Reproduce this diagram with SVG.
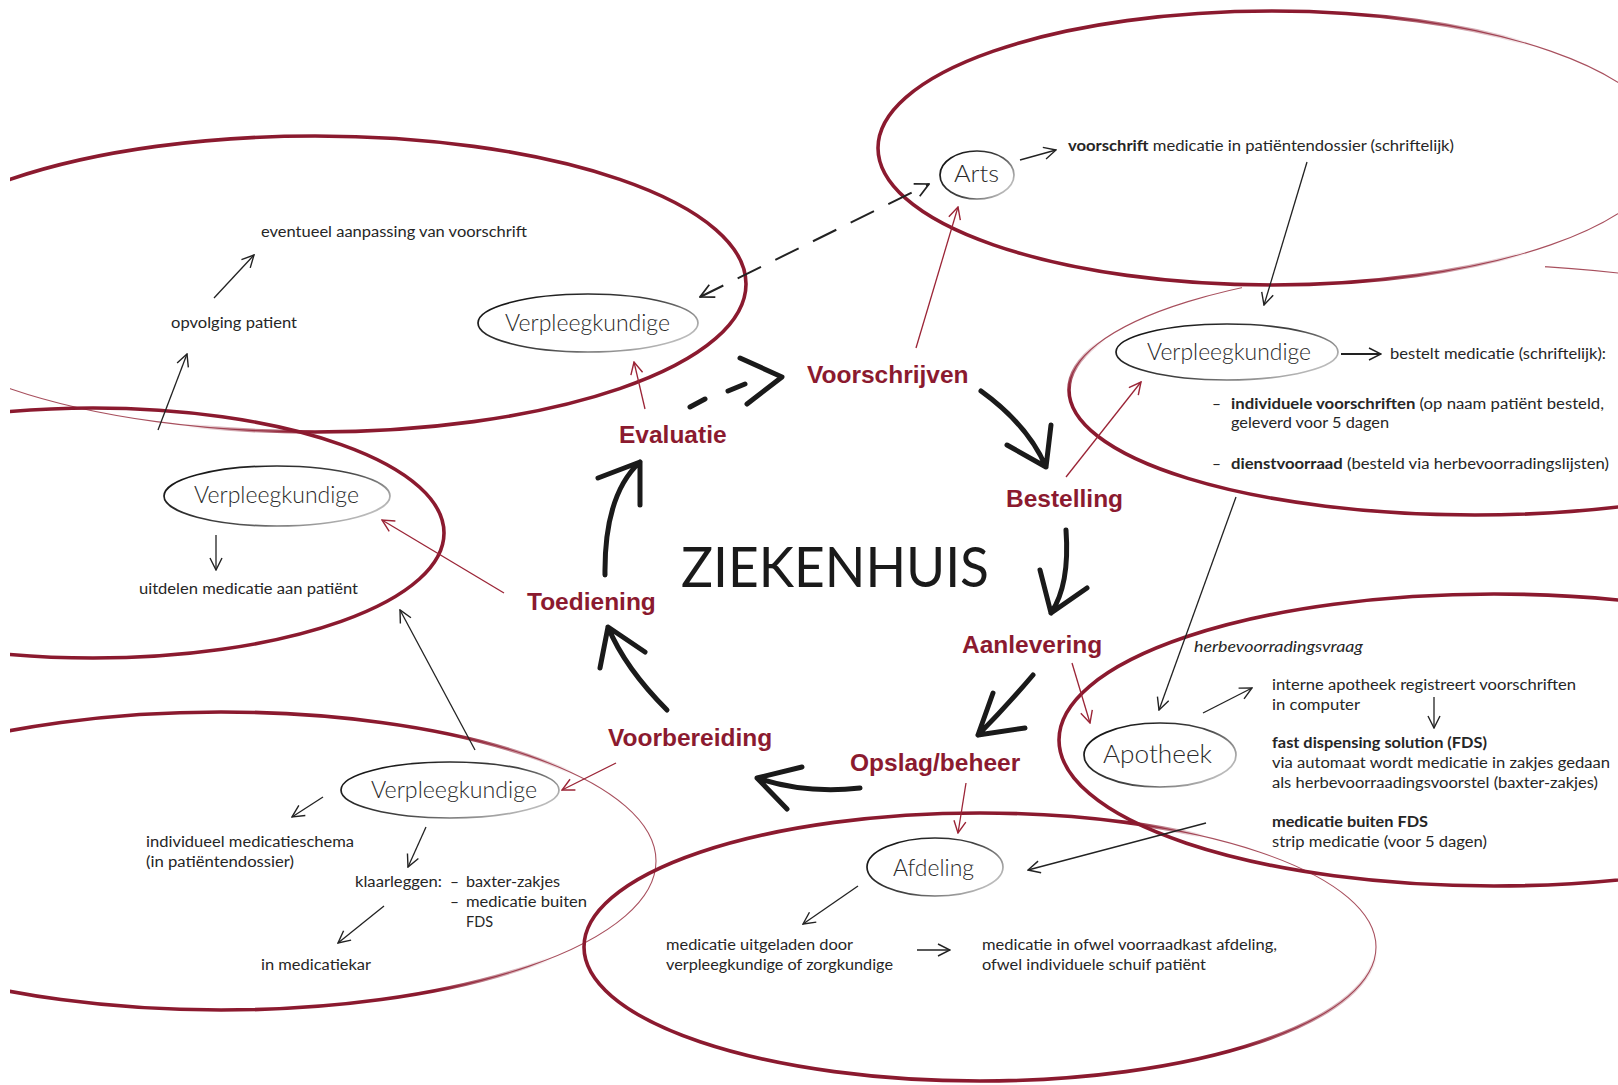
<svg xmlns="http://www.w3.org/2000/svg" width="1618" height="1085" viewBox="0 0 1618 1085">
<style>
.ring{fill:none;stroke-width:3.6}
.ringthin{fill:none;stroke:#a8505e;stroke-width:1.1}
.node{fill:#fff;stroke:url(#gN);stroke-width:1.7}
.nlab{font-family:Lato,"Open Sans",sans-serif;font-weight:300;fill:#2a2a2a}
.txt{font-family:Lato,"Open Sans",sans-serif;font-size:15.5px;fill:#262626}
.red{font-family:"Liberation Sans",Arial,sans-serif;font-weight:bold;font-size:24.5px;fill:#8b1a2f}
.big{font-family:Lato,"Open Sans",sans-serif;font-size:56px;fill:#1a1a1a}
.ar{stroke:#222;stroke-width:1.3;fill:none;marker-end:url(#ah)}
.arr{stroke:#9b2436;stroke-width:1.3;fill:none;marker-end:url(#ahr)}
.brush{stroke:#1a1a1a;stroke-width:5;fill:none;stroke-linecap:round;stroke-linejoin:round}
</style>
<defs>
<clipPath id="cLeft"><rect x="10" y="0" width="1608" height="1085"/></clipPath>
<clipPath id="cG"><path clip-rule="evenodd" d="M0,0H1618V1085H0Z M1242,200H1545V300H1242Z"/></clipPath>
<marker id="ah" viewBox="0 0 14 14" refX="13" refY="7" markerWidth="14" markerHeight="14" markerUnits="userSpaceOnUse" orient="auto"><path d="M1,1 L13,7 L1,13" fill="none" stroke="#222" stroke-width="1.4"/></marker>
<marker id="ahs" viewBox="0 0 14 14" refX="13" refY="7" markerWidth="16" markerHeight="16" markerUnits="userSpaceOnUse" orient="auto-start-reverse"><path d="M1,1 L13,7 L1,13" fill="none" stroke="#222" stroke-width="1.5"/></marker>
<marker id="ahr" viewBox="0 0 14 14" refX="13" refY="7" markerWidth="14" markerHeight="14" markerUnits="userSpaceOnUse" orient="auto"><path d="M1,1 L13,7 L1,13" fill="none" stroke="#9b2436" stroke-width="1.4"/></marker>
<linearGradient id="gN" x1="0" y1="0.2" x2="1" y2="0.8"><stop offset="0" stop-color="#111"/><stop offset="0.55" stop-color="#444"/><stop offset="1" stop-color="#d0d0d0"/></linearGradient>
<radialGradient id="gA" gradientUnits="userSpaceOnUse" cx="1680" cy="150" r="360"><stop offset="0.5" stop-color="#8b1a2f" stop-opacity="0"/><stop offset="0.95" stop-color="#8b1a2f" stop-opacity="1"/></radialGradient>
<radialGradient id="gB" gradientUnits="userSpaceOnUse" cx="60" cy="440" r="280"><stop offset="0.45" stop-color="#8b1a2f" stop-opacity="0"/><stop offset="0.9" stop-color="#8b1a2f" stop-opacity="1"/></radialGradient>
<radialGradient id="gD" gradientUnits="userSpaceOnUse" cx="680" cy="880" r="300"><stop offset="0.5" stop-color="#8b1a2f" stop-opacity="0"/><stop offset="0.9" stop-color="#8b1a2f" stop-opacity="1"/></radialGradient>
<radialGradient id="gE" gradientUnits="userSpaceOnUse" cx="1300" cy="880" r="210"><stop offset="0.5" stop-color="#8b1a2f" stop-opacity="0"/><stop offset="0.85" stop-color="#8b1a2f" stop-opacity="1"/></radialGradient>
<linearGradient id="gG" gradientUnits="userSpaceOnUse" x1="0" y1="340" x2="0" y2="392"><stop offset="0" stop-color="#8b1a2f" stop-opacity="0"/><stop offset="1" stop-color="#8b1a2f" stop-opacity="1"/></linearGradient>
</defs>
<rect width="1618" height="1085" fill="#fff"/>

<g id="zones" clip-path="url(#cLeft)">
<g id="zone-voorschrijven"><ellipse class="ringthin" cx="1272" cy="148" rx="394" ry="137"/><ellipse class="ring" stroke="url(#gA)" cx="1272" cy="148" rx="394" ry="137"/></g>
<g id="zone-evaluatie"><ellipse class="ringthin" cx="315" cy="284" rx="431" ry="148"/><ellipse class="ring" stroke="url(#gB)" cx="315" cy="284" rx="431" ry="148"/></g>
<g id="zone-toediening"><ellipse class="ring" stroke="#8b1a2f" cx="93" cy="533" rx="351" ry="125"/></g>
<g id="zone-voorbereiding"><ellipse class="ringthin" cx="221" cy="861" rx="435" ry="149"/><ellipse class="ring" stroke="url(#gD)" cx="221" cy="861" rx="435" ry="149"/></g>
<g id="zone-opslag"><ellipse class="ringthin" cx="980" cy="947" rx="396" ry="134"/><ellipse class="ring" stroke="url(#gE)" cx="980" cy="947" rx="396" ry="134"/></g>
<g id="zone-aanlevering"><ellipse class="ring" stroke="#8b1a2f" cx="1494" cy="740" rx="435" ry="146"/></g>
<g id="zone-bestelling"><ellipse class="ringthin" clip-path="url(#cG)" cx="1475" cy="390" rx="406" ry="125"/><ellipse class="ring" stroke="url(#gG)" cx="1475" cy="390" rx="406" ry="125"/></g>
</g>

<g id="connectors">
<line class="ar" x1="1020" y1="160" x2="1056" y2="150"/>
<line class="ar" x1="1307" y1="162" x2="1264" y2="305"/>
<line class="ar" x1="1341" y1="354" x2="1381" y2="354" style="stroke-width:1.8"/>
<line class="ar" x1="1236" y1="497" x2="1159" y2="710"/>
<line class="ar" x1="1203" y1="713" x2="1252" y2="688"/>
<line class="ar" x1="1434" y1="697" x2="1434" y2="728"/>
<line class="ar" x1="1206" y1="823" x2="1028" y2="870"/>
<line class="ar" x1="858" y1="886" x2="803" y2="924"/>
<line class="ar" x1="917" y1="950" x2="950" y2="950" style="stroke-width:1.6"/>
<line class="ar" x1="323" y1="797" x2="292" y2="817"/>
<line class="ar" x1="426" y1="827" x2="408" y2="867"/>
<line class="ar" x1="384" y1="906" x2="338" y2="943"/>
<line class="ar" x1="475" y1="750" x2="400" y2="610"/>
<line class="ar" x1="216" y1="535" x2="216" y2="570"/>
<line class="ar" x1="158" y1="430" x2="187" y2="354"/>
<line class="ar" x1="214" y1="298" x2="254" y2="255"/>
<line x1="700" y1="297" x2="929" y2="184" stroke="#222" stroke-width="2" stroke-dasharray="26 16" fill="none" marker-start="url(#ahs)" marker-end="url(#ahs)"/>

<line class="arr" x1="916" y1="348" x2="958" y2="207"/>
<line class="arr" x1="645" y1="409" x2="634" y2="362"/>
<line class="arr" x1="1066" y1="477" x2="1141" y2="382"/>
<line class="arr" x1="1072" y1="663" x2="1090" y2="723"/>
<line class="arr" x1="966" y1="783" x2="958" y2="833"/>
<line class="arr" x1="504" y1="593" x2="382" y2="520"/>
<line class="arr" x1="616" y1="763" x2="562" y2="790"/>

<g id="cycle">
<path class="brush" d="M981,391 Q1028,425 1046,467 M1007,445 L1046,467 L1051,425"/>
<path class="brush" d="M1066,530 Q1070,585 1051,613 M1040,570 L1051,613 L1087,588"/>
<path class="brush" d="M1033,675 Q1005,708 978,735 M993,693 L978,735 L1025,728"/>
<path class="brush" d="M860,788 Q805,794 757,778 M802,767 L757,778 L787,809"/>
<path class="brush" d="M667,710 Q625,668 608,627 M600,668 L608,627 L645,652"/>
<path class="brush" d="M605,575 Q604,495 640,462 M598,478 L640,462 L640,505"/>
<path class="brush" d="M690,407 L705,399 M728,391 L745,384 M740,358 L782,377 L747,404"/>
</g>
</g>

<g id="node-arts"><ellipse class="node" cx="977" cy="175" rx="37" ry="24"/><text class="nlab" x="954" y="182" font-size="23" textLength="45" lengthAdjust="spacingAndGlyphs">Arts</text></g>
<g id="node-verpl-eval"><ellipse class="node" cx="588" cy="323" rx="110" ry="29"/><text class="nlab" x="505" y="331" font-size="23" textLength="165" lengthAdjust="spacingAndGlyphs">Verpleegkundige</text></g>
<g id="node-verpl-best"><ellipse class="node" cx="1227" cy="352" rx="111" ry="28"/><text class="nlab" x="1147" y="360" font-size="23" textLength="164" lengthAdjust="spacingAndGlyphs">Verpleegkundige</text></g>
<g id="node-verpl-toed"><ellipse class="node" cx="277" cy="496" rx="113" ry="30"/><text class="nlab" x="194" y="503" font-size="23" textLength="165" lengthAdjust="spacingAndGlyphs">Verpleegkundige</text></g>
<g id="node-verpl-voorb"><ellipse class="node" cx="450" cy="790" rx="109" ry="28"/><text class="nlab" x="371" y="798" font-size="23" textLength="166" lengthAdjust="spacingAndGlyphs">Verpleegkundige</text></g>
<g id="node-apotheek"><ellipse class="node" cx="1160" cy="755" rx="76" ry="32"/><text class="nlab" x="1103" y="763" font-size="26" textLength="109" lengthAdjust="spacingAndGlyphs">Apotheek</text></g>
<g id="node-afdeling"><ellipse class="node" cx="935" cy="867" rx="68" ry="29"/><text class="nlab" x="893" y="876" font-size="23" textLength="81" lengthAdjust="spacingAndGlyphs">Afdeling</text></g>

<g id="phases">
<text class="big" x="681" y="587" textLength="308" lengthAdjust="spacingAndGlyphs">ZIEKENHUIS</text>
<text class="red" x="807" y="383">Voorschrijven</text>
<text class="red" x="619" y="443">Evaluatie</text>
<text class="red" x="1006" y="507">Bestelling</text>
<text class="red" x="962" y="653">Aanlevering</text>
<text class="red" x="850" y="771">Opslag/beheer</text>
<text class="red" x="608" y="746">Voorbereiding</text>
<text class="red" x="527" y="610">Toediening</text>
</g>

<g id="notes">
<text class="txt" x="1068" y="151" textLength="386" lengthAdjust="spacingAndGlyphs"><tspan font-weight="bold">voorschrift</tspan> medicatie in patiëntendossier (schriftelijk)</text>
<text class="txt" x="261" y="237" textLength="266" lengthAdjust="spacingAndGlyphs">eventueel aanpassing van voorschrift</text>
<text class="txt" x="171" y="328" textLength="126" lengthAdjust="spacingAndGlyphs">opvolging patient</text>
<text class="txt" x="1390" y="359" textLength="216" lengthAdjust="spacingAndGlyphs">bestelt medicatie (schriftelijk):</text>
<text class="txt" x="1212" y="409">–</text>
<text class="txt" x="1231" y="409" textLength="373" lengthAdjust="spacingAndGlyphs"><tspan font-weight="bold">individuele voorschriften</tspan> (op naam patiënt besteld,</text>
<text class="txt" x="1231" y="428" textLength="158" lengthAdjust="spacingAndGlyphs">geleverd voor 5 dagen</text>
<text class="txt" x="1212" y="469">–</text>
<text class="txt" x="1231" y="469" textLength="378" lengthAdjust="spacingAndGlyphs"><tspan font-weight="bold">dienstvoorraad</tspan> (besteld via herbevoorradingslijsten)</text>
<text class="txt" x="139" y="594" textLength="219" lengthAdjust="spacingAndGlyphs">uitdelen medicatie aan patiënt</text>
<text class="txt" x="1194" y="652" font-style="italic" textLength="169" lengthAdjust="spacingAndGlyphs">herbevoorradingsvraag</text>
<text class="txt" x="1272" y="690" textLength="304" lengthAdjust="spacingAndGlyphs">interne apotheek registreert voorschriften</text>
<text class="txt" x="1272" y="710" textLength="88" lengthAdjust="spacingAndGlyphs">in computer</text>
<text class="txt" x="1272" y="748" font-weight="bold" textLength="215" lengthAdjust="spacingAndGlyphs">fast dispensing solution (FDS)</text>
<text class="txt" x="1272" y="768" textLength="338" lengthAdjust="spacingAndGlyphs">via automaat wordt medicatie in zakjes gedaan</text>
<text class="txt" x="1272" y="788" textLength="326" lengthAdjust="spacingAndGlyphs">als herbevoorraadingsvoorstel (baxter-zakjes)</text>
<text class="txt" x="1272" y="827" font-weight="bold" textLength="156" lengthAdjust="spacingAndGlyphs">medicatie buiten FDS</text>
<text class="txt" x="1272" y="847" textLength="215" lengthAdjust="spacingAndGlyphs">strip medicatie (voor 5 dagen)</text>
<text class="txt" x="146" y="847" textLength="208" lengthAdjust="spacingAndGlyphs">individueel medicatieschema</text>
<text class="txt" x="146" y="867" textLength="148" lengthAdjust="spacingAndGlyphs">(in patiëntendossier)</text>
<text class="txt" x="355" y="887" textLength="87" lengthAdjust="spacingAndGlyphs">klaarleggen:</text>
<text class="txt" x="450" y="887">–</text>
<text class="txt" x="466" y="887" textLength="94" lengthAdjust="spacingAndGlyphs">baxter-zakjes</text>
<text class="txt" x="450" y="907">–</text>
<text class="txt" x="466" y="907" textLength="121" lengthAdjust="spacingAndGlyphs">medicatie buiten</text>
<text class="txt" x="466" y="927" textLength="27" lengthAdjust="spacingAndGlyphs">FDS</text>
<text class="txt" x="261" y="970" textLength="110" lengthAdjust="spacingAndGlyphs">in medicatiekar</text>
<text class="txt" x="666" y="950" textLength="187" lengthAdjust="spacingAndGlyphs">medicatie uitgeladen door</text>
<text class="txt" x="666" y="970" textLength="227" lengthAdjust="spacingAndGlyphs">verpleegkundige of zorgkundige</text>
<text class="txt" x="982" y="950" textLength="295" lengthAdjust="spacingAndGlyphs">medicatie in ofwel voorraadkast afdeling,</text>
<text class="txt" x="982" y="970" textLength="224" lengthAdjust="spacingAndGlyphs">ofwel individuele schuif patiënt</text>
</g>
</svg>
